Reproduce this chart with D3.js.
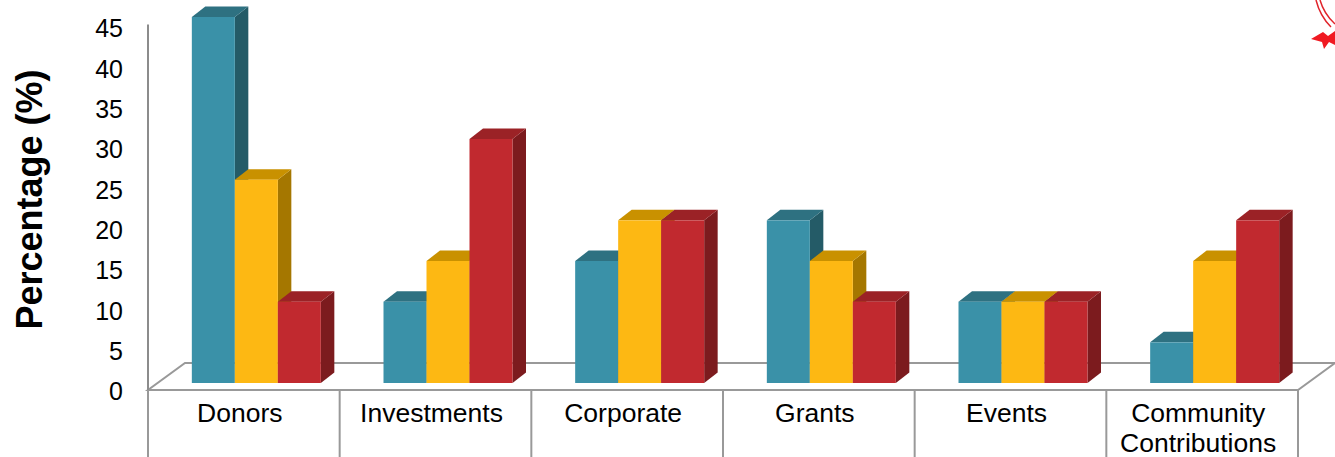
<!DOCTYPE html>
<html>
<head>
<meta charset="utf-8">
<script src="https://cdn.jsdelivr.net/npm/d3@7"></script>
<style>
html,body{margin:0;padding:0;background:#fff;}
svg{display:block;}
text{font-family:"Liberation Sans",Arial,sans-serif;fill:#000;}
</style>
</head>
<body>
<svg id="chart" width="1335" height="457"></svg>
<script>
const categories = ["Donors", "Investments", "Corporate", "Grants", "Events", "Community Contributions"];
const seriesNames = ["Series A", "Series B", "Series C"];
const seriesA = [45, 10, 15, 20, 10, 5];
const seriesB = [25, 15, 20, 15, 10, 15];
const seriesC = [10, 30, 20, 10, 10, 20];
const tickValues = [0, 5, 10, 15, 20, 25, 30, 35, 40, 45];
const axisTitle = "Percentage (%)";

const colors = [
  {front: "#3A91A8", top: "#2E7181", side: "#245B67"},
  {front: "#FDB813", top: "#C99100", side: "#A57700"},
  {front: "#C1292F", top: "#9B2226", side: "#7C1B1E"}
];

const svg = d3.select("#chart");
const left = 148, right = 1298, floorY = 390;
const depthX = 37, depthY = -27;        // floor depth
const barShiftX = 12.5;                 // bars placed slightly into depth
const barDX = 13.5, barDY = -10.5;      // bar depth
const labelShift = -4;

const x = d3.scaleBand().domain(categories).range([left, right]).paddingInner(0).paddingOuter(0);
const xs = d3.scaleBand().domain(seriesNames).range([0, 129]);
const yAxisScale = d3.scaleLinear().domain([0, 45]).range([391.5, 28.5]);
const yBar = d3.scaleLinear().domain([0, 45]).range([383, 17]);

const lineColor = "#999";

// floor parallelogram
svg.append("path")
  .attr("d", `M${left},${floorY} L${right},${floorY} L${right+depthX},${floorY+depthY} L${left+depthX},${floorY+depthY} Z`)
  .attr("fill", "none").attr("stroke", lineColor).attr("stroke-width", 2);

// vertical axis line
svg.append("line").attr("x1", left).attr("x2", left).attr("y1", yAxisScale(45) - 4).attr("y2", floorY)
  .attr("stroke", "#8c8c8c").attr("stroke-width", 2);

// category dividers below floor
const bounds = categories.map(c => x(c)).concat([right]);
svg.selectAll("line.div").data(bounds).enter().append("line")
  .attr("x1", d => d).attr("x2", d => d).attr("y1", floorY).attr("y2", 457)
  .attr("stroke", lineColor).attr("stroke-width", 2);

// y tick labels
svg.selectAll("text.tick").data(tickValues).enter().append("text")
  .attr("x", 123).attr("y", d => yAxisScale(d)).attr("dy", "0.35em")
  .attr("text-anchor", "end").attr("font-size", 25).text(d => d);

// axis title
svg.append("text")
  .attr("transform", `translate(42,199.5) rotate(-90)`)
  .attr("text-anchor", "middle").attr("font-size", 36).attr("font-weight", "bold")
  .text(axisTitle);

// category labels
const catG = svg.selectAll("text.cat").data(categories).enter().append("text")
  .attr("x", d => x(d) + x.bandwidth() / 2 + labelShift).attr("y", 422)
  .attr("text-anchor", "middle").attr("font-size", 26.5);
catG.each(function(d) {
  const words = d === "Community Contributions" ? ["Community", "Contributions"] : [d];
  const t = d3.select(this);
  words.forEach((w, i) => {
    t.append("tspan").attr("x", x(d) + x.bandwidth() / 2 + labelShift).attr("dy", i === 0 ? 0 : 30).text(w);
  });
});

// bars
const allSeries = [seriesA, seriesB, seriesC];
const bw = xs.bandwidth();
const groupOffset = (x.bandwidth() - 129) / 2 + barShiftX;
const base = yBar(0);
const barsG = svg.append("g");
categories.forEach((c, ci) => {
  allSeries.forEach((s, si) => {
    const v = s[ci];
    const x0 = x(c) + groupOffset + xs(seriesNames[si]);
    const yt = yBar(v);
    const col = colors[si];
    const g = barsG.append("g");
    // side face
    g.append("path")
      .attr("d", `M${x0+bw},${yt} L${x0+bw+barDX},${yt+barDY} L${x0+bw+barDX},${base+barDY} L${x0+bw},${base} Z`)
      .attr("fill", col.side);
    // top face
    g.append("path")
      .attr("d", `M${x0},${yt} L${x0+barDX},${yt+barDY} L${x0+bw+barDX},${yt+barDY} L${x0+bw},${yt} Z`)
      .attr("fill", col.top);
    // front face
    g.append("rect").attr("x", x0).attr("y", yt).attr("width", bw).attr("height", base - yt)
      .attr("fill", col.front);
  });
});

// decorative ribbon mark at top-right (partially cropped)
const deco = svg.append("g");
deco.append("path").attr("d", "M1316,0 Q1320,16 1331,27").attr("fill", "none").attr("stroke", "#e0242b").attr("stroke-width", 1.5);
deco.append("path").attr("d", "M1320,0 Q1324,14 1335,24").attr("fill", "none").attr("stroke", "#e0242b").attr("stroke-width", 1.5);
deco.append("path").attr("d", "M1311,39 L1323,32 L1328,36 L1335,31 L1335,45 L1329,42 L1324,49 L1322,42 Z").attr("fill", "#f01a22");
</script>
</body>
</html>
